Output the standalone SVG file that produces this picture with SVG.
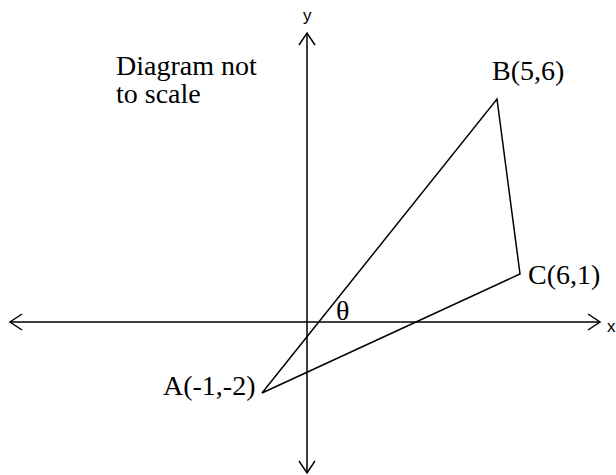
<svg xmlns="http://www.w3.org/2000/svg" width="616" height="475" viewBox="0 0 616 475">
<style>
.ln{stroke:#000;stroke-width:1.5;fill:none}
.lab{font-family:"Liberation Serif","Times New Roman",serif;font-size:28px;fill:#000}
.ax{font-family:"Liberation Sans",Arial,sans-serif;font-size:17px;fill:#000}
</style>
<rect width="616" height="475" fill="#fff"/>
<g id="connectors">
<path class="ln" d="M10,322 H600"/>
<path class="ln" d="M22,314 L10,322 L22,330"/>
<path class="ln" d="M588,314 L600,322 L588,330"/>
<path class="ln" d="M307,33 V473"/>
<path class="ln" d="M299,45 L307,33 L315,45"/>
<path class="ln" d="M299,461 L307,473 L315,461"/>
<path class="ln" d="M262,393 L497,99 L520,274 Z"/>
</g>
<g id="axis-y"><text class="ax" x="303" y="21">y</text></g>
<g id="axis-x"><text class="ax" x="607" y="332">x</text></g>
<g id="note"><text class="lab" x="116" y="75">Diagram not</text><text class="lab" x="116" y="103">to scale</text></g>
<g id="A"><text class="lab" x="163" y="395">A(-1,-2)</text></g>
<g id="B"><text class="lab" x="492" y="80">B(5,6)</text></g>
<g id="C"><text class="lab" x="528" y="284">C(6,1)</text></g>
<g id="theta"><text class="lab" x="336" y="320">θ</text></g>
</svg>
